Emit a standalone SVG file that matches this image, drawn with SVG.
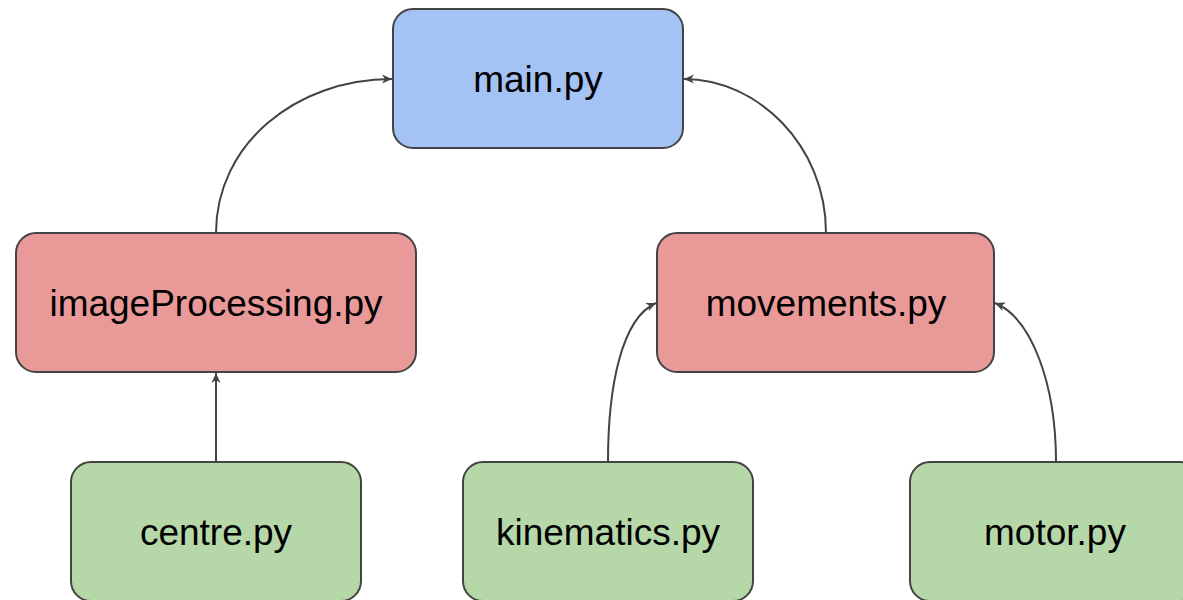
<svg xmlns="http://www.w3.org/2000/svg" width="1183" height="600" viewBox="0 0 1183 600">
  <style>
    .box { stroke: #434343; stroke-width: 2; }
    .main { fill: #a4c2f4; }
    .mid { fill: #ea9999; }
    .leaf { fill: #b6d7a8; }
    .label { font-family: "Liberation Sans", Arial, sans-serif; font-size: 37px; fill: #000000; text-anchor: middle; }
    .edge { fill: none; stroke: #434343; stroke-width: 2; marker-end: url(#arrow); }
  </style>
  <defs>
    <marker id="arrow" markerUnits="userSpaceOnUse" markerWidth="12" markerHeight="12" viewBox="0 0 12 12" refX="11" refY="6" orient="auto">
      <path d="M1,1.5 L11,6 L1,10.5 L4,6 Z" fill="#434343"/>
    </marker>
  </defs>
  <rect width="1183" height="600" fill="#ffffff"/>

  <g id="connectors">
    <path class="edge" d="M216,233 C216,145 295,79 392,79"/>
    <path class="edge" d="M826,233 C826,145 757,79 684,79"/>
    <path class="edge" d="M216,462 L216,373"/>
    <path class="edge" d="M608,462 C608,385 622,318 656,303"/>
    <path class="edge" d="M1056,462 C1056,385 1032,318 995,303"/>
  </g>

  <g id="main">
    <rect class="box main" x="393" y="9" width="290" height="139" rx="20" ry="20"/>
    <text class="label" x="538" y="92">main.py</text>
  </g>
  <g id="imageProcessing">
    <rect class="box mid" x="16" y="233" width="400" height="139" rx="20" ry="20"/>
    <text class="label" x="216" y="316">imageProcessing.py</text>
  </g>
  <g id="movements">
    <rect class="box mid" x="657" y="233" width="337" height="139" rx="20" ry="20"/>
    <text class="label" x="826" y="316">movements.py</text>
  </g>
  <g id="centre">
    <rect class="box leaf" x="71" y="462" width="290" height="139" rx="20" ry="20"/>
    <text class="label" x="216" y="545">centre.py</text>
  </g>
  <g id="kinematics">
    <rect class="box leaf" x="463" y="462" width="290" height="139" rx="20" ry="20"/>
    <text class="label" x="608" y="545">kinematics.py</text>
  </g>
  <g id="motor">
    <rect class="box leaf" x="910" y="462" width="290" height="139" rx="20" ry="20"/>
    <text class="label" x="1055" y="545">motor.py</text>
  </g>
</svg>
